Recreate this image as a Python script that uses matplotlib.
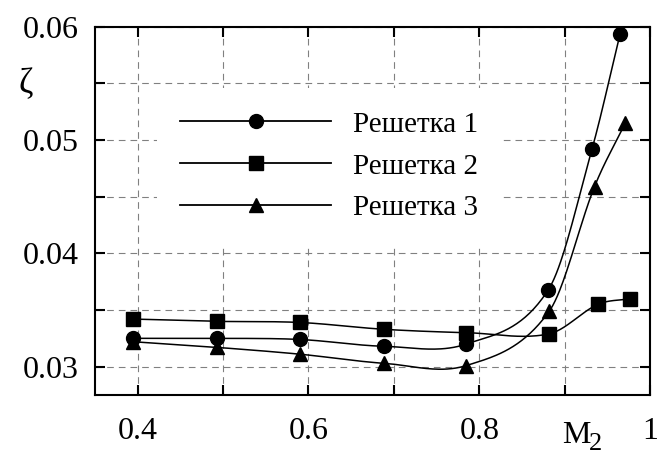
import matplotlib.pyplot as plt
import numpy as np
from matplotlib.ticker import MultipleLocator, FuncFormatter

# data (M2 -> zeta)
m_1 = [0.395, 0.493, 0.590, 0.688, 0.785, 0.881, 0.932, 0.965]
z_1 = [0.0325, 0.0325, 0.0324, 0.0318, 0.0320, 0.0368, 0.0492, 0.0594]

m_2 = [0.395, 0.493, 0.590, 0.688, 0.785, 0.882, 0.939, 0.977]
z_2 = [0.0342, 0.0340, 0.0339, 0.0333, 0.0330, 0.0329, 0.0355, 0.0360]

m_3 = [0.395, 0.493, 0.590, 0.688, 0.785, 0.882, 0.935, 0.971]
z_3 = [0.0322, 0.0317, 0.0311, 0.0303, 0.0301, 0.0349, 0.0459, 0.0515]

labels = ["Решетка 1", "Решетка 2", "Решетка 3"]
markers = ["o", "s", "^"]


def smooth(x, y, n=40):
    # Catmull-Rom style Hermite curve through the points
    x = np.asarray(x, float)
    y = np.asarray(y, float)
    k = len(x)
    m = np.zeros(k)
    m[0] = (y[1] - y[0]) / (x[1] - x[0])
    m[-1] = (y[-1] - y[-2]) / (x[-1] - x[-2])
    for i in range(1, k - 1):
        m[i] = (y[i + 1] - y[i - 1]) / (x[i + 1] - x[i - 1])
    xs, ys = [], []
    for i in range(k - 1):
        h = x[i + 1] - x[i]
        t = np.linspace(0, 1, n)
        h00 = 2 * t**3 - 3 * t**2 + 1
        h10 = t**3 - 2 * t**2 + t
        h01 = -2 * t**3 + 3 * t**2
        h11 = t**3 - t**2
        xs.append(x[i] + t * h)
        ys.append(h00 * y[i] + h10 * h * m[i] + h01 * y[i + 1] + h11 * h * m[i + 1])
    return np.concatenate(xs), np.concatenate(ys)


plt.rcParams['font.family'] = ['Liberation Serif', 'DejaVu Serif']

fig = plt.figure(figsize=(6.64, 4.54), dpi=100)
ax = fig.add_axes([0.143, 0.130, 0.836, 0.811])

for (mx, zy), lab, mk in zip([(m_1, z_1), (m_2, z_2), (m_3, z_3)], labels, markers):
    size = 10.5 if mk == '^' else 10
    xs, ys = smooth(mx, zy)
    ax.plot(xs, ys, color='black', lw=1.1)
    ax.plot(mx, zy, linestyle='none', marker=mk, color='black', ms=size)
    # proxy for legend
    ax.plot([], [], color='black', lw=1.3, marker=mk, ms=size, label=lab)

ax.set_xlim(0.35, 1.0)
ax.set_ylim(0.0275, 0.06)

ax.xaxis.set_major_locator(MultipleLocator(0.1))
ax.yaxis.set_major_locator(MultipleLocator(0.005))


def xfmt(v, pos):
    r = round(v * 10)
    if r == 10:
        return "1"
    if r % 2 == 0:
        return "%.1f" % v
    return ""


def yfmt(v, pos):
    r = round(v * 1000)
    if r % 10 == 0:
        return "%.2f" % v
    return ""


ax.xaxis.set_major_formatter(FuncFormatter(xfmt))
ax.yaxis.set_major_formatter(FuncFormatter(yfmt))
ax.tick_params(direction='in', length=7, width=1.5, top=True, right=True,
               labelsize=23)
ax.tick_params(axis='x', pad=16)
ax.tick_params(axis='y', pad=12)
ax.grid(True, linestyle=(0, (6, 4.5)), color='#808080', lw=0.8)
for s in ax.spines.values():
    s.set_linewidth(1.5)

fig.text(0.039, 0.813, "ζ", fontsize=25, ha='center', va='center')
fig.text(0.868, 0.040, "M", fontsize=23, ha='center', va='center')
fig.text(0.897, 0.022, "2", fontsize=19, ha='center', va='center')

leg = ax.legend(loc='upper left', bbox_to_anchor=(0.112, 0.834), frameon=True,
                facecolor='white', edgecolor='none', framealpha=1, fancybox=False,
                handlelength=5.15, numpoints=1, fontsize=21, labelspacing=0.53,
                handletextpad=0.75, borderpad=0.8, borderaxespad=0)

fig.savefig("out.png", dpi=100)
